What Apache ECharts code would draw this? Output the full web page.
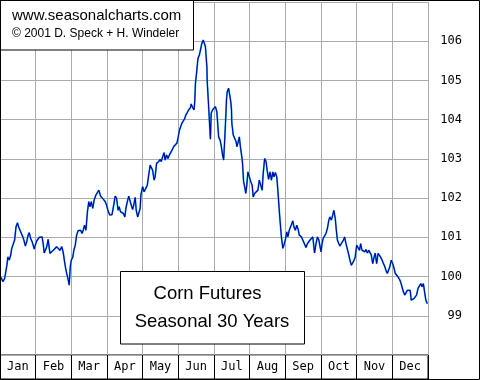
<!DOCTYPE html>
<html>
<head>
<meta charset="utf-8">
<script src="https://cdn.jsdelivr.net/npm/echarts@6/dist/echarts.min.js"></script>
<style>
html,body{margin:0;padding:0;background:#fff;}
#c{width:480px;height:380px;}
</style>
</head>
<body>
<div id="c"></div>
<script>
// ---- data ----
const months = ['Jan','Feb','Mar','Apr','May','Jun','Jul','Aug','Sep','Oct','Nov','Dec'];
const yTicks = [99,100,101,102,103,104,105,106];
const titleLines = ['www.seasonalcharts.com', '\u00a9 2001 D. Speck + H. Windeler'];
const boxLines = ['Corn Futures', 'Seasonal 30 Years'];
// position within the year, in months (0 = 1 Jan, 12 = 31 Dec)
const monthPos = [
0.03,0.08,0.13,0.17,0.20,0.22,0.26,0.30,0.33,0.37,0.41,0.43,0.45,0.49,0.52,0.58,0.64,0.67,0.71,0.75,
0.79,0.82,0.86,0.90,0.93,0.96,0.99,1.03,1.07,1.10,1.14,1.18,1.21,1.24,1.28,1.31,1.35,1.37,1.40,1.45,
1.49,1.54,1.59,1.63,1.68,1.73,1.77,1.81,1.84,1.87,1.91,1.94,1.97,2.00,2.04,2.07,2.11,2.15,2.19,2.22,
2.26,2.30,2.34,2.37,2.41,2.45,2.49,2.52,2.56,2.60,2.64,2.69,2.77,2.82,2.88,2.92,2.95,2.99,3.03,3.08,
3.14,3.18,3.23,3.27,3.31,3.34,3.38,3.42,3.46,3.50,3.53,3.57,3.61,3.64,3.68,3.72,3.76,3.79,3.82,3.86,
3.91,3.93,3.95,4.00,4.04,4.09,4.13,4.17,4.21,4.24,4.28,4.32,4.35,4.39,4.45,4.49,4.52,4.56,4.60,4.63,
4.67,4.71,4.75,4.79,4.82,4.87,4.91,4.96,4.99,5.03,5.07,5.10,5.15,5.18,5.21,5.25,5.29,5.34,5.36,5.40,
5.44,5.46,5.48,5.51,5.55,5.59,5.63,5.66,5.70,5.73,5.76,5.80,5.81,5.85,5.88,5.90,5.92,5.96,6.00,6.04,
6.08,6.11,6.13,6.17,6.20,6.24,6.27,6.30,6.33,6.35,6.37,6.41,6.44,6.47,6.49,6.50,6.54,6.58,6.62,6.64,
6.67,6.71,6.74,6.78,6.80,6.83,6.86,6.89,6.92,6.95,6.99,7.03,7.07,7.10,7.14,7.18,7.23,7.27,7.31,7.35,
7.38,7.42,7.46,7.49,7.53,7.57,7.61,7.65,7.68,7.72,7.76,7.79,7.83,7.85,7.89,7.93,7.96,8.00,8.04,8.07,
8.11,8.15,8.21,8.24,8.28,8.32,8.36,8.39,8.45,8.49,8.54,8.58,8.62,8.66,8.69,8.73,8.77,8.80,8.82,8.86,
8.90,8.94,8.97,9.00,9.03,9.06,9.10,9.14,9.18,9.22,9.25,9.29,9.33,9.36,9.40,9.43,9.46,9.50,9.53,9.57,
9.63,9.66,9.70,9.74,9.78,9.81,9.85,9.89,9.93,9.96,10.00,10.04,10.08,10.11,10.15,10.19,10.23,10.26,10.30,10.34,
10.37,10.41,10.45,10.49,10.52,10.56,10.60,10.64,10.67,10.71,10.75,10.79,10.82,10.86,10.90,10.93,10.97,11.01,11.05,11.08,
11.12,11.16,11.20,11.23,11.27,11.31,11.35,11.38,11.42,11.46,11.50,11.53,11.57,11.61,11.64,11.68,11.72,11.76,11.80,11.83,
11.87,11.91,11.94,11.98
];
const seasonal = [
99.98,99.87,99.95,100.16,100.33,100.50,100.42,100.55,100.72,100.67,100.93,101.10,101.27,101.37,101.27,101.14,101.01,100.93,100.78,100.89,
101.06,101.12,100.97,100.89,100.80,100.70,100.80,100.91,100.93,101.00,100.95,101.01,100.84,100.60,100.55,100.76,100.95,100.80,100.59,100.63,
100.67,100.70,100.76,100.72,100.67,100.76,100.63,100.38,100.21,100.08,99.93,99.78,100.25,100.42,100.49,100.67,100.80,101.06,101.17,101.12,
101.18,101.10,101.20,101.31,101.18,101.64,101.91,101.78,101.91,101.74,101.95,102.08,102.20,102.05,101.99,102.02,101.91,101.82,101.67,101.57,
101.58,101.78,102.05,101.99,101.69,101.78,101.65,101.69,101.61,101.52,101.74,101.91,102.05,101.95,101.82,101.71,101.87,102.02,101.69,101.52,
101.48,101.74,102.08,102.29,102.16,102.20,102.33,102.59,102.84,102.80,102.71,102.46,102.54,102.89,102.93,102.99,102.93,103.05,103.16,102.97,
103.10,103.01,103.10,103.05,103.22,103.31,103.35,103.40,103.52,103.73,103.78,103.91,103.95,104.03,104.12,104.18,104.25,104.31,104.40,104.31,
104.25,104.46,104.93,105.18,105.56,105.65,105.82,105.95,106.03,106.07,105.86,105.35,104.97,104.33,103.82,103.50,104.16,104.25,104.29,104.33,
104.20,103.82,103.56,103.48,103.35,103.10,102.97,103.48,104.07,104.50,104.71,104.80,104.84,104.46,104.25,103.91,103.61,103.52,103.44,103.31,
103.40,103.56,103.31,103.05,102.89,102.42,102.29,102.12,102.33,102.67,102.63,102.42,102.33,102.03,102.12,102.16,102.20,102.46,102.33,102.20,
102.63,103.01,102.93,102.71,102.48,102.67,102.46,102.67,102.54,102.65,102.54,102.20,101.69,101.44,101.01,100.72,100.80,100.93,101.14,101.01,
101.18,101.23,101.42,101.27,101.18,101.31,101.20,101.06,101.01,100.93,100.89,100.74,100.84,100.80,100.93,100.89,101.01,100.76,100.60,100.84,
101.01,100.93,100.78,100.63,100.84,100.97,101.00,101.10,101.23,101.44,101.52,101.44,101.57,101.69,101.48,101.18,100.93,100.84,100.78,100.80,
100.93,101.01,100.84,100.89,100.55,100.42,100.29,100.35,100.42,100.50,100.80,100.76,100.67,100.84,100.67,100.72,100.63,100.69,100.60,100.67,
100.67,100.55,100.33,100.50,100.60,100.33,100.59,100.60,100.50,100.42,100.38,100.25,100.16,100.08,100.04,100.25,100.42,100.33,100.21,100.08,
100.12,99.99,99.93,99.87,99.74,99.61,99.53,99.57,99.65,99.61,99.65,99.40,99.35,99.44,99.40,99.53,99.70,99.74,99.82,99.74,
99.82,99.57,99.40,99.31
];

const series = monthPos.map((m, i) => [m, seasonal[i]]);

const chart = echarts.init(document.getElementById('c'), null, {renderer: 'canvas'});
const GRID = '#ababab';
const MONO = '"DejaVu Sans Mono", monospace';
const SANS = '"Liberation Sans", Arial, sans-serif';

chart.setOption({
  animation: false,
  backgroundColor: '#ffffff',
  grid: [
    {left: 0, right: 52, top: 2, bottom: 25, containLabel: false},
    {left: 0, right: 52, top: 355, height: 24, show: true, borderColor: '#000', borderWidth: 1, backgroundColor: '#fff'}
  ],
  xAxis: [
    {type: 'value', gridIndex: 0, min: 0, max: 12, interval: 1,
     axisLabel: {show: false}, axisLine: {show: false}, axisTick: {show: false},
     splitLine: {show: true, lineStyle: {color: GRID, width: 1}}},
    {type: 'category', gridIndex: 1, data: months, position: 'top', boundaryGap: true,
     axisLine: {show: false}, axisTick: {show: false},
     axisLabel: {inside: true, margin: 6, color: '#000', fontFamily: MONO, fontSize: 12, lineHeight: 12, interval: 0},
     splitLine: {show: true, interval: 0, lineStyle: {color: '#000', width: 1}}}
  ],
  yAxis: [
    {type: 'value', gridIndex: 0, position: 'right', min: 98, max: 107, interval: 1,
     axisLine: {show: false}, axisTick: {show: false},
     axisLabel: {color: '#000', fontFamily: MONO, fontSize: 12, align: 'right', margin: 34,
       formatter: v => yTicks.includes(v) ? String(v) : ''},
     splitLine: {show: true, lineStyle: {color: GRID, width: 1}}},
    {type: 'value', gridIndex: 1, show: false}
  ],
  series: [
    {type: 'line', xAxisIndex: 0, yAxisIndex: 0, data: series, showSymbol: false, symbol: 'none',
     lineStyle: {color: '#30b8e8', width: 1.8}, silent: true, z: 2},
    {type: 'line', xAxisIndex: 0, yAxisIndex: 0, data: series, showSymbol: false, symbol: 'none',
     lineStyle: {color: '#0000a8', width: 1.1}, silent: true, z: 3}
  ],
  graphic: [
    {type: 'rect', z: 100, shape: {x: 0.5, y: 0.5, width: 193, height: 49.5},
     style: {fill: '#fff', stroke: '#000', lineWidth: 1}},
    {type: 'text', z: 101, x: 12, y: 16, style: {text: titleLines[0], font: '15px ' + SANS, fill: '#000', textVerticalAlign: 'middle', verticalAlign: 'middle'}},
    {type: 'text', z: 101, x: 12, y: 34, style: {text: titleLines[1], font: '12px ' + SANS, fill: '#000', textVerticalAlign: 'middle', verticalAlign: 'middle'}},
    {type: 'rect', z: 100, shape: {x: 120.5, y: 271.5, width: 184, height: 72.5},
     style: {fill: '#fff', stroke: '#000', lineWidth: 1}},
    {type: 'text', z: 101, x: 207.5, y: 294, style: {text: boxLines[0], font: '18.5px ' + SANS, fill: '#000', align: 'center', textAlign: 'center', verticalAlign: 'middle', textVerticalAlign: 'middle'}},
    {type: 'text', z: 101, x: 212, y: 322, style: {text: boxLines[1], font: '18.5px ' + SANS, fill: '#000', align: 'center', textAlign: 'center', verticalAlign: 'middle', textVerticalAlign: 'middle'}},
    {type: 'rect', z: 200, silent: true, shape: {x: 0.5, y: 0.5, width: 479, height: 379},
     style: {fill: 'none', stroke: '#000', lineWidth: 1}}
  ]
});
</script>
</body>
</html>
